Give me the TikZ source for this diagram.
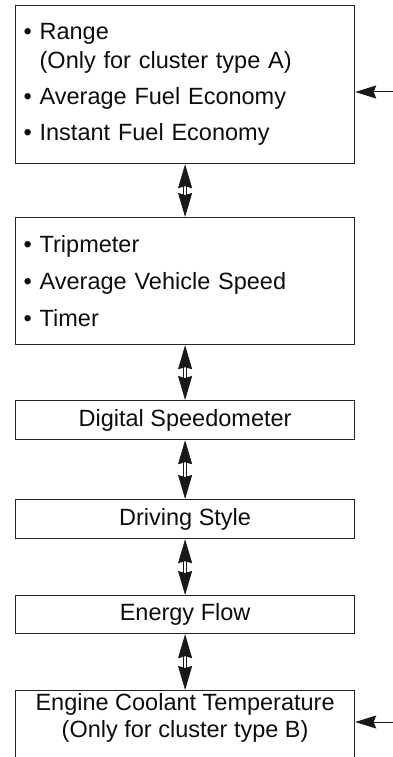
\documentclass[tikz,border=0pt]{standalone}
\usepackage{fontspec}
\setmainfont{Liberation Sans}
\usetikzlibrary{arrows.meta,positioning}

\begin{document}
\begin{tikzpicture}[x=1pt, y=-1pt,
    menu/.style={draw=black!85, line width=1.2pt, minimum width=339pt, inner xsep=8pt, text=black!95,
        font=\fontsize{23.5}{29}\selectfont},
    listbox/.style={menu, text width=323pt, align=left},
    link/.style={{Stealth[length=24pt, width=14pt, inset=2pt]}-{Stealth[length=24pt, width=14pt, inset=2pt]},
        draw=black!90, double=white, double distance=2pt, line width=0.8pt},
    feed/.style={-{Stealth[length=21pt, width=13pt, inset=2.5pt]}, draw=black!90, line width=1pt}
]
\useasboundingbox (0,0) rectangle (393,757);
\clip (0,0) rectangle (393,757);

\node[listbox, minimum height=158pt, anchor=north west] (trip) at (15,5)
    {\textbullet\ Range\\ \hphantom{\textbullet\ }(Only for cluster type A)\\[7pt]
     \textbullet\ Average Fuel Economy\\[7pt]
     \textbullet\ Instant Fuel Economy};
\node[listbox, minimum height=127pt, anchor=north west] (odo) at (15,217)
    {\textbullet\ Tripmeter\\[8pt]
     \textbullet\ Average Vehicle Speed\\[8pt]
     \textbullet\ Timer};
\node[menu, minimum height=39pt, anchor=north west] (speed) at (15,400) {Digital Speedometer};
\node[menu, minimum height=39pt, anchor=north west] (style) at (15,499) {Driving Style};
\node[menu, minimum height=38pt, anchor=north west] (flow) at (15,595) {Energy Flow};
\node[menu, align=center, anchor=north west, inner ysep=3pt, text depth=40pt,
    font=\fontsize{23.5}{26.5}\selectfont] (temp) at (15,690)
    {Engine Coolant Temperature\\(Only for cluster type B)};

\coordinate (inA) at (393,92);
\coordinate (inB) at (393,722);

\draw[link] (trip.south) -- (odo.north);
\draw[link] (odo.south) -- (speed.north);
\draw[link] (speed.south) -- (style.north);
\draw[link] (style.south) -- (flow.north);
\draw[link] (flow.south) -- (temp.north);
\draw[feed] (inA) -- (trip.east |- inA);
\draw[feed] (inB) -- (temp.east |- inB);
\end{tikzpicture}
\end{document}
